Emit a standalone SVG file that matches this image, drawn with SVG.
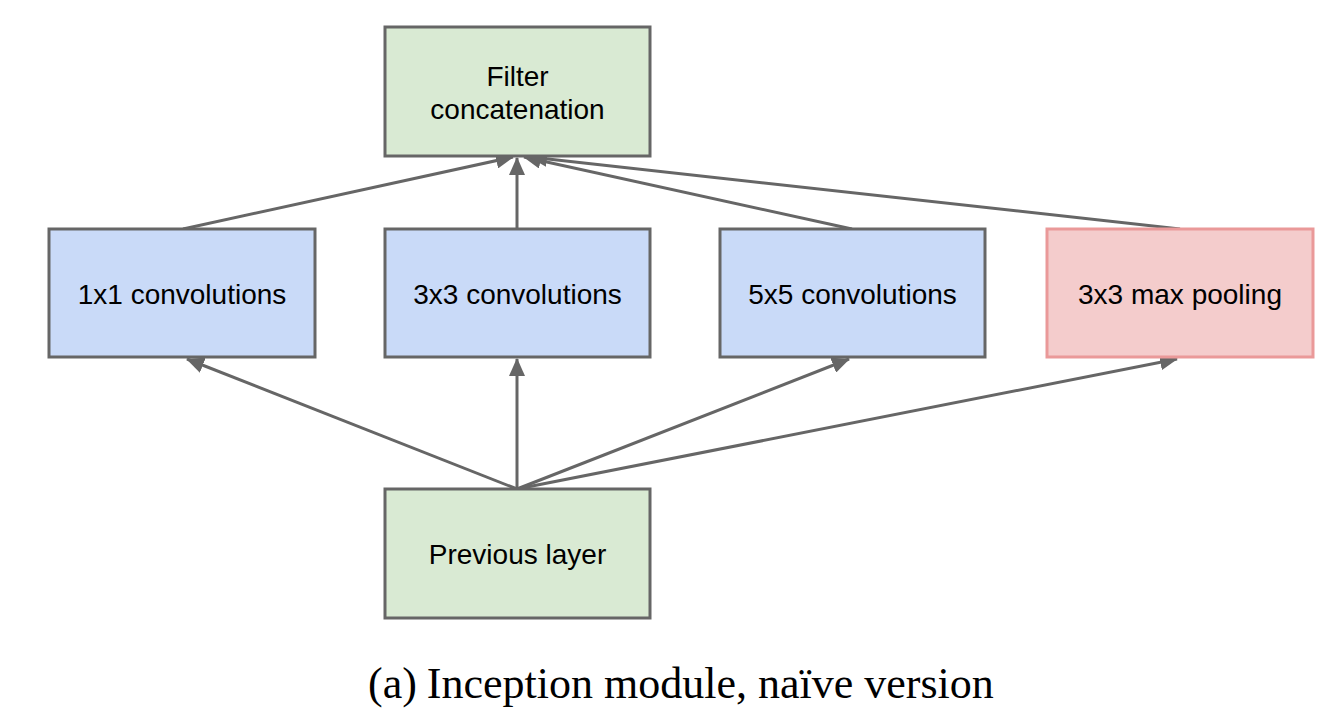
<svg xmlns="http://www.w3.org/2000/svg" width="1335" height="720" viewBox="0 0 1335 720">
<defs>
<style>
.box{stroke:#666666;stroke-width:3}
.green{fill:#d9ead3}
.blue{fill:#c9daf8}
.red{fill:#f4cccc;stroke:#ea9999}
.lbl{font-family:"Liberation Sans",Arial,sans-serif;font-size:28px;fill:#000;text-anchor:middle}
.edge{stroke:#666666;stroke-width:3;fill:none;marker-end:url(#ah)}
.cap{font-family:"Liberation Serif","Times New Roman",serif;font-size:44px;fill:#000}
</style>
<marker id="ah" markerUnits="userSpaceOnUse" markerWidth="18" markerHeight="16" refX="17" refY="8" orient="auto" viewBox="0 0 18 16">
<path d="M0,0 L18,8 L0,16 z" fill="#666666"/>
</marker>
</defs>
<rect width="1335" height="720" fill="#ffffff"/>
<g id="connectors">
<line class="edge" x1="183" y1="229" x2="513" y2="157"/>
<line class="edge" x1="517" y1="229" x2="517" y2="158"/>
<line class="edge" x1="852" y1="229" x2="524" y2="157"/>
<line class="edge" x1="1180" y1="229" x2="530" y2="157"/>
<line class="edge" x1="517" y1="489" x2="187" y2="359"/>
<line class="edge" x1="517" y1="489" x2="517" y2="359"/>
<line class="edge" x1="517" y1="489" x2="849" y2="359"/>
<line class="edge" x1="517" y1="489" x2="1177" y2="359"/>
</g>
<g id="filter-concat">
<rect class="box green" x="385" y="27" width="265" height="129"/>
<text class="lbl" x="517.5" y="86">Filter</text>
<text class="lbl" x="517.5" y="119">concatenation</text>
</g>
<g id="conv1x1">
<rect class="box blue" x="49" y="229" width="266" height="128"/>
<text class="lbl" x="182" y="304">1x1 convolutions</text>
</g>
<g id="conv3x3">
<rect class="box blue" x="385" y="229" width="265" height="128"/>
<text class="lbl" x="517.5" y="304">3x3 convolutions</text>
</g>
<g id="conv5x5">
<rect class="box blue" x="720" y="229" width="265" height="128"/>
<text class="lbl" x="852.5" y="304">5x5 convolutions</text>
</g>
<g id="maxpool">
<rect class="box red" x="1047" y="229" width="266" height="128"/>
<text class="lbl" x="1180" y="304">3x3 max pooling</text>
</g>
<g id="previous-layer">
<rect class="box green" x="385" y="489" width="265" height="129"/>
<text class="lbl" x="517.5" y="564">Previous layer</text>
</g>
<text class="cap" x="368" y="698">(a)<tspan dx="10">Inception module, naïve version</tspan></text>
</svg>
